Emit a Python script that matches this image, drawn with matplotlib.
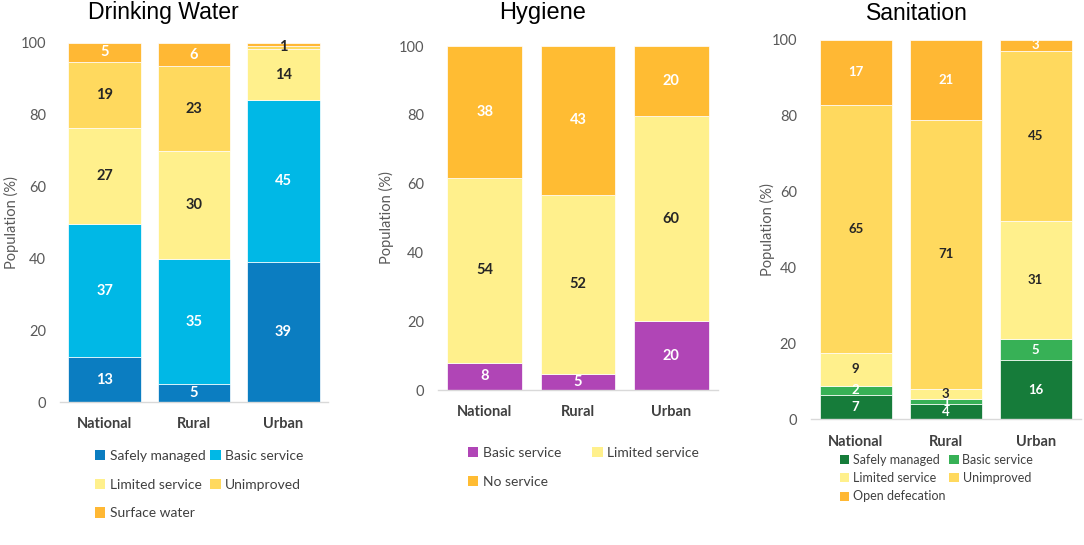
import matplotlib
matplotlib.use("Agg")
import matplotlib.pyplot as plt
from matplotlib.patches import Patch
import numpy as np

categories = ["National", "Rural", "Urban"]

# Drinking water
dw_series = ["Safely managed", "Basic service", "Limited service", "Unimproved", "Surface water"]
dw_safely = [12.4, 5.0, 38.9]
dw_basic = [37.2, 34.8, 45.2]
dw_limited = [26.6, 30.2, 14.2]
dw_unimproved = [18.6, 23.5, 1.0]
dw_surface = [5.2, 6.5, 0.7]
dw_labels = [["13", "5", "39"], ["37", "35", "45"], ["27", "30", "14"],
             ["19", "23", "1"], ["5", "6", ""]]

# Hygiene
hy_series = ["Basic service", "Limited service", "No service"]
hy_basic = [7.9, 4.7, 20.0]
hy_limited = [53.8, 52.0, 59.6]
hy_none = [38.3, 43.3, 20.4]
hy_labels = [["8", "5", "20"], ["54", "52", "60"], ["38", "43", "20"]]

# Sanitation
sa_series = ["Safely managed", "Basic service", "Limited service", "Unimproved", "Open defecation"]
sa_safely = [6.4, 4.0, 15.6]
sa_basic = [2.4, 1.3, 5.5]
sa_limited = [8.7, 2.7, 31.2]
sa_unimproved = [65.3, 70.9, 44.8]
sa_open = [17.2, 21.1, 2.9]
sa_labels = [["7", "4", "16"], ["2", "1", "5"], ["9", "3", "31"],
             ["65", "71", "45"], ["17", "21", "3"]]

YELLOW_L = "#FFF08C"
YELLOW_M = "#FFD95E"
ORANGE = "#FFB834"
DARK = "#262626"
WHITE = "#FFFFFF"

panels = [
    dict(title="Drinking Water", series=dw_series,
         data=[dw_safely, dw_basic, dw_limited, dw_unimproved, dw_surface],
         labels=dw_labels,
         colors=["#0B7DC1", "#00B8E6", YELLOW_L, YELLOW_M, ORANGE],
         tcolors=[WHITE, WHITE, DARK, DARK, WHITE],
         rect=[60/1084, 1-402/545, 268/1084, 359/545],
         title_x=163/1084, title_fs=16.6, width=0.81, vfs=10.5,
         ylab_x=11/1084,
         leg_anchor=(95/1084, 1-450/545), leg_fs=10, leg_ls=1.2, leg_cs=0.35,
         order=[0, 2, 4, 1, 3]),
    dict(title="Hygiene", series=hy_series,
         data=[hy_basic, hy_limited, hy_none],
         labels=hy_labels,
         colors=["#B045B6", YELLOW_L, "#FFBC33"],
         tcolors=[WHITE, DARK, WHITE],
         rect=[438/1084, 1-390/545, 280/1084, 344/545],
         title_x=543/1084, title_fs=17.0, width=0.80, vfs=10.5,
         ylab_x=386/1084,
         leg_anchor=(468/1084, 1-447/545), leg_fs=10, leg_ls=1.2, leg_cs=2.25,
         order=[0, 2, 1]),
    dict(title="Sanitation", series=sa_series,
         data=[sa_safely, sa_basic, sa_limited, sa_unimproved, sa_open],
         labels=sa_labels,
         colors=["#167C3A", "#37B156", YELLOW_L, YELLOW_M, ORANGE],
         tcolors=[WHITE, WHITE, DARK, DARK, WHITE],
         rect=[810.7/1084, 1-419.3/545, 270/1084, 379.7/545],
         title_x=917/1084, title_fs=16.6, width=0.80, vfs=9.5,
         ylab_x=767/1084,
         leg_anchor=(840/1084, 1-454/545), leg_fs=9, leg_ls=0.5, leg_cs=0.3,
         order=[0, 2, 4, 1, 3]),
]

fig = plt.figure(figsize=(10.84, 5.45), dpi=100)
fig.patch.set_facecolor("white")

LBL = ["Lato", "DejaVu Sans"]

for p in panels:
    ax = fig.add_axes(p["rect"])
    x = np.arange(len(categories))
    bottom = np.zeros(len(categories))
    handles = []
    for vals, lab, col, tc, lbls in zip(p["data"], p["series"], p["colors"],
                                        p["tcolors"], p["labels"]):
        vals = np.array(vals, dtype=float)
        bars = ax.bar(x, vals, bottom=bottom, width=p["width"], color=col,
                      edgecolor="white", linewidth=0.5, label=lab)
        ax.bar_label(bars, labels=lbls, label_type="center", color=tc,
                     fontsize=p["vfs"], fontweight="bold", family=LBL)
        handles.append(Patch(facecolor=col, edgecolor="none", label=lab))
        bottom = bottom + vals
    ax.set_xlim(-0.5, 2.5)
    ax.set_ylim(0, 100)
    ax.set_yticks([0, 20, 40, 60, 80, 100])
    ax.set_xticks(x)
    ax.set_xticklabels(categories, fontweight="bold", fontsize=10.5,
                       color="#404040", family=LBL)
    for t in ax.get_yticklabels():
        t.set_family(LBL)
        t.set_fontsize(10.5)
        t.set_color("#595959")
    ax.tick_params(axis="both", length=0)
    ax.tick_params(axis="x", pad=11)
    ax.tick_params(axis="y", pad=10)
    for s in ["top", "right", "left"]:
        ax.spines[s].set_visible(False)
    ax.spines["bottom"].set_color("#D9D9D9")
    ax.spines["bottom"].set_linewidth(1.0)
    fig.text(p["ylab_x"], p["rect"][1] + p["rect"][3] / 2, "Population (%)",
             rotation=90, ha="center", va="center", fontsize=10.5,
             color="#595959", family=LBL)
    fig.text(p["title_x"], 1 - 13/545, p["title"], ha="center", va="center",
             fontsize=p["title_fs"], color="black",
             family=["Liberation Sans", "DejaVu Sans"])
    hs = [handles[i] for i in p["order"]]
    leg = fig.legend(handles=hs, loc="upper left", bbox_to_anchor=p["leg_anchor"],
                     ncol=2, frameon=False,
                     handlelength=0.75, handleheight=0.75, handletextpad=0.3,
                     labelspacing=p["leg_ls"], columnspacing=p["leg_cs"],
                     borderpad=0, borderaxespad=0,
                     prop={"family": LBL, "size": p["leg_fs"]})
    for t in leg.get_texts():
        t.set_color("#404040")

fig.savefig("out.png", dpi=100, facecolor="white")
